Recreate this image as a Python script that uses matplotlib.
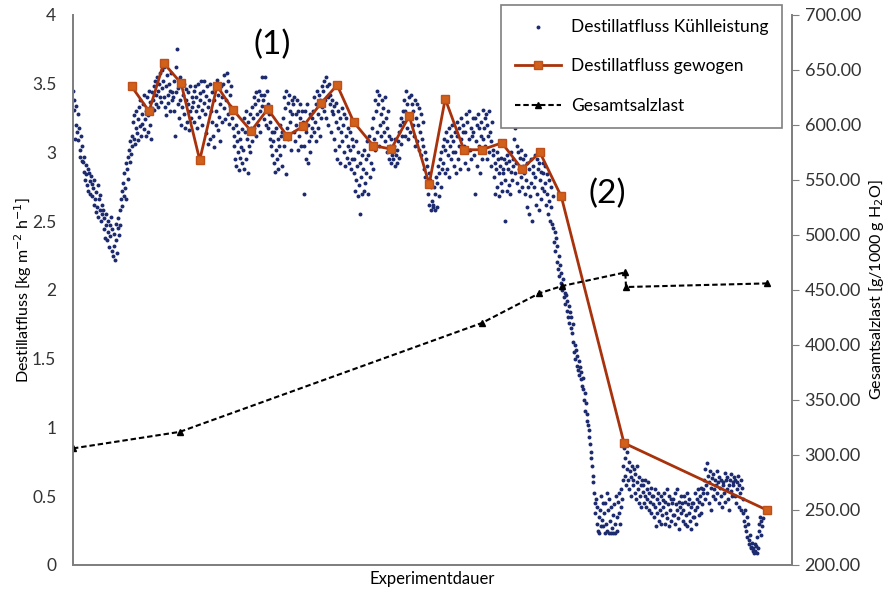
import numpy as np
import matplotlib
matplotlib.use("Agg")
import matplotlib.pyplot as plt

plt.rcParams['font.family'] = ['Lato', 'DejaVu Sans']

# Destillatfluss Kühlleistung (kg m-2 h-1), one value per measurement step
flux_rows = [
    [3.45, 3.38, 3.31, 3.10, 3.34, 3.20, 3.15, 3.28, 3.09, 3.18, 3.02, 2.97, 3.12, 2.94, 3.05],
    [2.93, 2.86, 2.97, 2.80, 2.91, 2.84, 2.76, 2.88, 2.72, 2.85, 2.79, 2.70, 2.83, 2.68, 2.77],
    [2.74, 2.62, 2.80, 2.66, 2.57, 2.71, 2.60, 2.76, 2.53, 2.66, 2.58, 2.69, 2.50, 2.62, 2.55],
    [2.58, 2.44, 2.52, 2.38, 2.55, 2.47, 2.36, 2.50, 2.42, 2.31, 2.47, 2.39, 2.53, 2.28, 2.44],
    [2.25, 2.41, 2.32, 2.22, 2.48, 2.36, 2.27, 2.45, 2.52, 2.40, 2.58, 2.47, 2.66, 2.72, 2.61],
    [2.78, 2.68, 2.85, 2.74, 2.92, 2.66, 2.88, 2.97, 2.81, 3.02, 2.93, 3.08, 2.99, 3.12, 3.05],
    [3.22, 3.10, 3.27, 3.06, 3.18, 3.30, 3.14, 3.24, 3.09, 3.33, 3.19, 3.38, 3.12, 3.28, 3.21],
    [3.35, 3.17, 3.42, 3.24, 3.12, 3.30, 3.40, 3.15, 3.27, 3.45, 3.20, 3.37, 3.10, 3.32, 3.44],
    [3.38, 3.48, 3.31, 3.52, 3.42, 3.35, 3.55, 3.45, 3.33, 3.50, 3.40, 3.58, 3.37, 3.47, 3.60],
    [3.52, 3.40, 3.62, 3.33, 3.48, 3.27, 3.56, 3.42, 3.36, 3.50, 3.30, 3.45, 3.58, 3.38, 3.44],
    [3.40, 3.30, 3.52, 3.12, 3.44, 3.62, 3.75, 3.35, 3.47, 3.25, 3.55, 3.38, 3.20, 3.49, 3.33],
    [3.42, 3.28, 3.50, 3.18, 3.38, 3.46, 3.22, 3.35, 3.44, 3.16, 3.30, 3.48, 3.25, 3.40, 3.33],
    [3.37, 3.45, 3.22, 3.48, 3.30, 3.40, 3.18, 3.50, 3.34, 3.26, 3.43, 3.38, 3.52, 3.20, 3.31],
    [3.45, 3.36, 3.52, 3.28, 3.41, 3.14, 3.48, 3.33, 3.06, 3.38, 3.50, 3.10, 3.30, 3.44, 3.22],
    [3.12, 3.38, 3.04, 3.46, 3.20, 3.30, 3.53, 3.16, 3.42, 3.26, 3.08, 3.35, 3.48, 3.22, 3.40],
    [3.50, 3.32, 3.56, 3.24, 3.45, 3.38, 3.58, 3.28, 3.52, 3.21, 3.42, 3.34, 3.48, 3.30, 3.25],
    [3.18, 3.05, 3.12, 2.95, 3.20, 2.90, 3.08, 3.00, 3.15, 2.87, 3.10, 2.96, 3.04, 3.17, 2.92],
    [3.02, 3.25, 2.88, 3.15, 3.30, 2.95, 3.10, 3.22, 2.85, 3.05, 3.28, 3.00, 3.18, 3.33, 3.08],
    [3.25, 3.40, 3.18, 3.35, 3.12, 3.44, 3.28, 3.38, 3.20, 3.45, 3.30, 3.15, 3.42, 3.34, 3.55],
    [3.38, 3.24, 3.42, 3.55, 3.30, 3.20, 3.45, 3.35, 3.18, 3.28, 3.10, 3.22, 3.05, 3.15, 2.98],
    [3.08, 2.92, 3.15, 2.86, 3.02, 3.18, 2.95, 3.10, 2.88, 3.05, 3.20, 2.98, 3.12, 2.90, 3.15],
    [3.25, 3.40, 3.05, 3.32, 2.84, 3.45, 3.18, 3.36, 3.10, 3.42, 3.22, 3.30, 3.02, 3.38, 3.28],
    [3.35, 3.15, 3.40, 3.08, 3.28, 3.20, 3.38, 3.02, 3.30, 3.12, 3.25, 3.35, 3.05, 3.18, 3.30],
    [3.22, 3.05, 2.70, 3.30, 2.95, 3.15, 3.35, 2.92, 3.20, 3.08, 3.28, 3.00, 3.12, 3.25, 3.18],
    [3.30, 3.15, 3.40, 3.22, 3.08, 3.35, 3.45, 3.18, 3.28, 3.42, 3.12, 3.38, 3.25, 3.48, 3.33],
    [3.45, 3.30, 3.52, 3.38, 3.55, 3.25, 3.48, 3.40, 3.20, 3.50, 3.35, 3.42, 3.15, 3.30, 3.38],
    [3.28, 3.10, 3.34, 3.02, 3.22, 3.36, 2.95, 3.18, 3.30, 3.05, 3.25, 2.92, 3.15, 3.32, 3.08],
    [3.20, 3.00, 3.28, 2.90, 3.12, 3.25, 2.96, 3.18, 3.05, 2.92, 3.15, 3.02, 2.88, 3.10, 2.95],
    [3.05, 2.85, 2.95, 2.72, 3.08, 2.80, 2.90, 2.68, 3.00, 2.76, 2.92, 2.55, 2.82, 2.98, 2.70],
    [2.88, 2.72, 3.02, 2.78, 2.95, 2.85, 3.08, 2.70, 2.98, 3.12, 2.82, 3.05, 2.92, 3.18, 2.88],
    [3.25, 3.10, 3.38, 3.02, 3.30, 3.45, 3.15, 3.35, 3.05, 3.42, 3.20, 3.28, 3.12, 3.38, 3.22],
    [3.32, 3.15, 3.40, 3.08, 3.25, 3.00, 3.18, 3.30, 2.95, 3.12, 3.05, 2.92, 3.10, 2.98, 3.02],
    [2.95, 3.05, 2.90, 3.10, 2.98, 3.02, 2.92, 3.08, 3.15, 2.96, 3.20, 3.06, 3.25, 3.12, 3.30],
    [3.22, 3.38, 3.12, 3.30, 3.45, 3.18, 3.35, 3.10, 3.40, 3.28, 3.15, 3.42, 3.25, 3.35, 3.20],
    [3.30, 3.12, 3.38, 3.05, 3.25, 3.35, 3.08, 3.20, 3.32, 3.02, 3.15, 3.28, 2.98, 3.10, 3.22],
    [3.05, 2.88, 3.00, 2.82, 2.95, 2.78, 2.90, 2.70, 2.85, 2.62, 2.80, 2.58, 2.75, 2.65, 2.60],
    [2.62, 2.75, 2.58, 2.70, 2.82, 2.60, 2.78, 2.90, 2.68, 2.85, 2.95, 2.75, 3.00, 2.88, 3.05],
    [2.92, 3.10, 2.85, 3.02, 3.15, 2.88, 3.08, 2.98, 3.18, 2.82, 3.05, 3.12, 2.95, 3.20, 3.00],
    [3.08, 2.90, 3.15, 3.00, 2.85, 3.12, 3.22, 2.95, 3.05, 3.18, 2.88, 3.10, 3.25, 3.00, 3.15],
    [3.20, 3.05, 2.92, 3.15, 3.28, 3.00, 3.22, 2.88, 3.10, 3.30, 3.02, 3.18, 2.95, 3.12, 3.25],
    [3.15, 2.98, 3.25, 2.70, 3.08, 3.20, 2.90, 3.28, 3.05, 3.18, 2.85, 3.12, 3.22, 2.95, 3.10],
    [3.31, 3.18, 3.25, 3.05, 3.28, 2.95, 3.20, 3.12, 3.30, 3.00, 3.15, 2.90, 3.08, 3.22, 3.02],
    [2.98, 2.82, 2.92, 2.70, 2.88, 3.00, 2.75, 2.95, 2.85, 2.68, 2.90, 2.78, 2.96, 2.72, 2.88],
    [2.85, 2.95, 2.50, 2.80, 2.92, 2.72, 2.98, 2.88, 2.76, 2.94, 2.70, 2.86, 3.00, 2.80, 2.90],
    [2.95, 3.10, 2.85, 3.18, 2.92, 3.05, 2.78, 3.00, 2.88, 2.72, 2.96, 2.82, 3.02, 2.75, 2.90],
    [2.95, 2.85, 2.70, 2.98, 2.80, 2.60, 2.92, 2.75, 2.55, 2.88, 2.68, 2.95, 2.78, 2.50, 2.85],
    [2.90, 2.75, 2.98, 2.82, 2.62, 2.95, 2.70, 2.88, 2.58, 2.92, 2.80, 2.66, 2.86, 2.74, 2.92],
    [2.85, 2.72, 2.90, 2.78, 2.62, 2.84, 2.70, 2.55, 2.80, 2.65, 2.50, 2.75, 2.60, 2.48, 2.68],
    [2.45, 2.35, 2.42, 2.28, 2.38, 2.20, 2.32, 2.15, 2.25, 2.10, 2.18, 2.05, 2.12, 2.00, 2.08],
    [2.02, 1.95, 1.98, 1.90, 1.96, 1.85, 1.92, 1.80, 1.88, 1.76, 1.84, 1.72, 1.80, 1.69, 1.75],
    [1.62, 1.55, 1.60, 1.50, 1.56, 1.45, 1.52, 1.42, 1.48, 1.38, 1.44, 1.35, 1.40, 1.30, 1.36],
    [1.28, 1.20, 1.25, 1.12, 1.18, 1.05, 1.10, 1.02, 0.93, 0.98, 0.88, 0.82, 0.78, 0.72, 0.65],
    [0.60, 0.52, 0.45, 0.38, 0.48, 0.30, 0.42, 0.25, 0.35, 0.23, 0.40, 0.28, 0.50, 0.33, 0.45],
    [0.28, 0.38, 0.23, 0.45, 0.30, 0.52, 0.25, 0.40, 0.23, 0.48, 0.32, 0.23, 0.42, 0.27, 0.36],
    [0.23, 0.44, 0.30, 0.23, 0.50, 0.35, 0.25, 0.46, 0.38, 0.52, 0.30, 0.42, 0.55, 0.48, 0.62],
    [0.72, 0.85, 0.65, 0.78, 0.58, 0.82, 0.70, 0.62, 0.75, 0.55, 0.68, 0.50, 0.64, 0.72, 0.58],
    [0.62, 0.70, 0.52, 0.66, 0.48, 0.60, 0.72, 0.55, 0.45, 0.64, 0.50, 0.58, 0.42, 0.62, 0.53],
    [0.58, 0.45, 0.62, 0.50, 0.42, 0.55, 0.48, 0.60, 0.40, 0.52, 0.46, 0.56, 0.38, 0.50, 0.44],
    [0.50, 0.35, 0.55, 0.42, 0.28, 0.48, 0.38, 0.52, 0.32, 0.45, 0.40, 0.30, 0.50, 0.36, 0.47],
    [0.42, 0.52, 0.30, 0.46, 0.38, 0.55, 0.34, 0.44, 0.28, 0.50, 0.40, 0.48, 0.32, 0.45, 0.36],
    [0.48, 0.36, 0.52, 0.30, 0.44, 0.40, 0.55, 0.34, 0.46, 0.26, 0.42, 0.50, 0.38, 0.45, 0.32],
    [0.40, 0.50, 0.30, 0.46, 0.36, 0.52, 0.28, 0.44, 0.38, 0.48, 0.32, 0.42, 0.26, 0.45, 0.35],
    [0.45, 0.35, 0.52, 0.40, 0.30, 0.48, 0.42, 0.55, 0.36, 0.46, 0.50, 0.38, 0.56, 0.44, 0.52],
    [0.55, 0.62, 0.48, 0.70, 0.58, 0.74, 0.52, 0.65, 0.45, 0.60, 0.68, 0.40, 0.56, 0.63, 0.50],
    [0.66, 0.55, 0.62, 0.48, 0.58, 0.68, 0.52, 0.60, 0.45, 0.64, 0.56, 0.50, 0.62, 0.42, 0.58],
    [0.60, 0.52, 0.67, 0.46, 0.62, 0.55, 0.64, 0.48, 0.58, 0.40, 0.62, 0.54, 0.66, 0.50, 0.60],
    [0.58, 0.64, 0.50, 0.62, 0.45, 0.60, 0.55, 0.65, 0.42, 0.58, 0.52, 0.62, 0.40, 0.56, 0.48],
    [0.38, 0.32, 0.40, 0.28, 0.25, 0.35, 0.20, 0.30, 0.18, 0.15, 0.22, 0.13, 0.12, 0.16, 0.10],
    [0.12, 0.09, 0.15, 0.10, 0.14, 0.09, 0.20, 0.12, 0.30, 0.25, 0.35, 0.22, 0.32, 0.28, 0.34],
]

# Destillatfluss gewogen
weighed_t = [88, 114, 136, 162, 190, 216, 240, 267, 292, 321, 345, 372, 396, 421,
             450, 477, 504, 534, 558, 586, 613, 643, 673, 700, 732, 826, 1040]
weighed_flux = [3.48, 3.30, 3.65, 3.505, 2.945, 3.484, 3.31, 3.156, 3.316, 3.12, 3.19,
                3.36, 3.49, 3.22, 3.05, 3.025, 3.265, 2.77, 3.39, 3.02, 3.02, 3.07,
                2.88, 3.00, 2.68, 0.887, 0.40]

# Gesamtsalzlast g/1000 g H2O
salt_t = [0, 160, 613, 699, 733, 828, 829, 1041]
salt_load = [306, 321, 420, 447, 453.6, 466, 452.7, 456]

flux = np.concatenate(flux_rows)
t = np.arange(len(flux))

fig = plt.figure(figsize=(8.9, 5.9), dpi=100)
ax = fig.add_axes([0.082, 0.0424, 0.808, 0.9322])
ax2 = ax.twinx()

grey = '#7f7f7f'
sc = ax.scatter(t, flux, s=8, color='#1c2a6e', linewidths=0, zorder=2,
                label='Destillatfluss Kühlleistung')
ln, = ax.plot(weighed_t, weighed_flux, color='#a8320c', lw=2, marker='s', ms=6,
              mfc='#d0601a', mec='#c0501a', zorder=3, label='Destillatfluss gewogen')
sl, = ax2.plot(salt_t, salt_load, color='black', lw=1.5, ls=(0, (2.6, 1.4)), marker='^',
               ms=4.5, label='Gesamtsalzlast')

ax.set_xlim(0, 1078)
ax.set_ylim(0, 4)
ax2.set_ylim(200, 700)
ax.set_xticks([])
ax.set_yticks(np.arange(0, 4.01, 0.5))
ax.set_yticklabels(['0', '0.5', '1', '1.5', '2', '2.5', '3', '3.5', '4'])
ax2.set_yticks(np.arange(200, 701, 50))
ax2.set_yticklabels(['%.2f' % v for v in np.arange(200, 701, 50)])

for a in (ax, ax2):
    a.spines['top'].set_visible(False)
    for side in ('left', 'right', 'bottom'):
        a.spines[side].set_color(grey)
        a.spines[side].set_linewidth(1.3)
ax.tick_params(axis='y', length=0, pad=12, labelsize=12.5, labelcolor='#333333')
ax2.tick_params(axis='y', length=5, color=grey, pad=4, labelsize=13, labelcolor='#333333')

ax.set_ylabel('Destillatfluss [kg m$^{-2}$ h$^{-1}$]', fontsize=11.5)
ax2.set_ylabel('Gesamtsalzlast [g/1000 g H$_2$O]', fontsize=11.5)
ax.yaxis.set_label_coords(-0.054, 0.5)
ax2.yaxis.set_label_coords(1.104, 0.5)
ax.set_xlabel('Experimentdauer', fontsize=12, labelpad=4)

ax.text(298, 3.78, '(1)', fontsize=24, ha='center', va='center')
ax.text(801, 2.7, '(2)', fontsize=24, ha='center', va='center')

leg = fig.legend([sc, ln, sl], ['Destillatfluss Kühlleistung', 'Destillatfluss gewogen', 'Gesamtsalzlast'],
                 loc='upper right', bbox_to_anchor=(0.879, 0.9915), borderaxespad=0,
                 fontsize=12.5, fancybox=False, framealpha=1, edgecolor=grey,
                 borderpad=0.8, labelspacing=1.35, handlelength=2.6, handletextpad=0.6)
leg.get_frame().set_linewidth(1.2)

fig.savefig('out.png', dpi=100)
